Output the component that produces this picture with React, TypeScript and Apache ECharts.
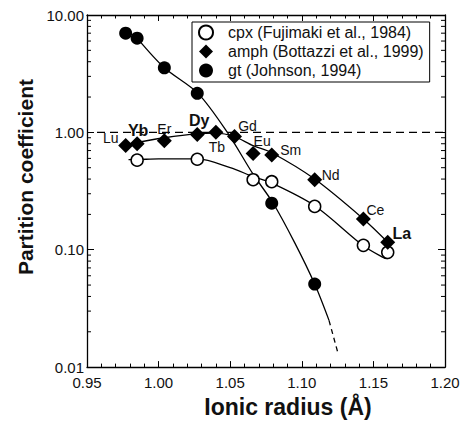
import React, { useEffect, useRef } from "react";
import * as echarts from "echarts";

// ---- data ----
const X_MIN = 0.95;
const X_MAX = 1.2;
const Y_MIN = 0.01;
const Y_MAX = 10;

const CPX_NAME = "cpx (Fujimaki et al., 1984)";
const AMPH_NAME = "amph (Bottazzi et al., 1999)";
const GT_NAME = "gt (Johnson, 1994)";

// cpx (open circles): ionic radius (Å), partition coefficient
const cpxRadius = [0.985, 1.027, 1.066, 1.079, 1.109, 1.143, 1.16];
const cpxValue = [0.58, 0.59, 0.395, 0.38, 0.234, 0.109, 0.095];

// amph (diamonds)
const amphElements = ["Lu", "Yb", "Er", "Dy", "Tb", "Gd", "Eu", "Sm", "Nd", "Ce", "La"];
const amphRadius = [0.977, 0.985, 1.004, 1.027, 1.04, 1.053, 1.066, 1.079, 1.109, 1.143, 1.16];
const amphValue = [0.774, 0.8, 0.85, 0.957, 1.0, 0.92, 0.66, 0.64, 0.395, 0.183, 0.116];

// gt (filled circles)
const gtRadius = [0.977, 0.985, 1.004, 1.027, 1.079, 1.109];
const gtValue = [7.0, 6.35, 3.55, 2.15, 0.249, 0.051];

// fitted curves as drawn
const cpxCurveX = [0.979, 0.9856, 1.0, 1.0275, 1.05, 1.066, 1.079, 1.109, 1.143, 1.156, 1.1595, 1.163];
const cpxCurveY = [0.585, 0.586, 0.595, 0.595, 0.5, 0.42, 0.37, 0.237, 0.108, 0.087, 0.084, 0.091];

const amphCurveX = [0.978, 0.985, 1.004, 1.0275, 1.04, 1.053, 1.066, 1.079, 1.109, 1.143, 1.16];
const amphCurveY = [0.79, 0.82, 0.9, 0.975, 0.985, 0.92, 0.77, 0.67, 0.4, 0.183, 0.116];

const gtCurveX = [0.985, 1.004, 1.0275, 1.048, 1.066, 1.08, 1.095, 1.109, 1.119];
const gtCurveY = [6.35, 3.55, 2.15, 1.0, 0.44, 0.249, 0.115, 0.051, 0.025];

const gtDashX = [1.119, 1.125];
const gtDashY = [0.025, 0.0135];

const refLineX = [0.957, 1.2];
const refLineY = [1.0, 1.0];

// log-axis minor ticks
const yMinorTicks = [
  0.02, 0.03, 0.04, 0.05, 0.06, 0.07, 0.08, 0.09,
  0.2, 0.3, 0.4, 0.5, 0.6, 0.7, 0.8, 0.9,
  2, 3, 4, 5, 6, 7, 8, 9,
];

// ---- styles ----
const amphLabelBold = [false, true, false, true, false, false, false, false, false, false, true];
const amphLabelOffset = [
  [-15, -7], [1, -13], [0, -12], [2, -14], [1, 15], [13, -11],
  [9, -13], [19, -5], [16, -5], [12, -9], [14, -9],
];

const FONT = "'Liberation Sans', Arial, Helvetica, sans-serif";
const MINOR_LEN = 4;

const zip = (xs: number[], ys: number[]) => xs.map((x, i) => [x, ys[i]]);

export default function App() {
  const ref = useRef<HTMLDivElement>(null);

  useEffect(() => {
    if (!ref.current) return;
    const chart = echarts.init(ref.current, undefined, { renderer: "svg" });

    const curveStyle = { color: "#000", width: 1.3 };

    const option: any = {
      animation: false,
      backgroundColor: "#fff",
      textStyle: { fontFamily: FONT },
      grid: { left: 87, right: 20, top: 15, bottom: 49, containLabel: false },
      legend: {
        data: [CPX_NAME, AMPH_NAME, GT_NAME],
        orient: "vertical",
        left: 192,
        top: 22,
        selectedMode: false,
        backgroundColor: "#fff",
        borderColor: "#000",
        borderWidth: 1,
        padding: [1, 6, 2, 6],
        itemGap: 0,
        itemWidth: 14,
        itemHeight: 14,
        textStyle: {
          fontFamily: FONT,
          fontSize: 16,
          color: "#111",
          lineHeight: 19,
          padding: [0, 0, 0, 10],
        },
      },
      xAxis: [
        {
          type: "value",
          min: X_MIN,
          max: X_MAX,
          interval: 0.05,
          position: "bottom",
          name: "Ionic radius (Å)",
          nameLocation: "middle",
          nameGap: 21,
          nameTextStyle: {
            fontFamily: FONT,
            fontSize: 23,
            fontWeight: "bold",
            color: "#111",
            padding: [0, 0, 0, 44],
          },
          axisLine: { lineStyle: { color: "#000", width: 1.3 } },
          axisTick: { inside: true, length: 6, lineStyle: { color: "#000" } },
          minorTick: { show: true, splitNumber: 5, length: 3.5, lineStyle: { color: "#000" } },
          axisLabel: {
            fontFamily: FONT,
            fontSize: 15,
            color: "#111",
            margin: 8,
            formatter: (v: number) => Number(v).toFixed(2),
          },
          splitLine: { show: false },
        },
        {
          type: "value",
          min: X_MIN,
          max: X_MAX,
          interval: 0.05,
          position: "top",
          axisLine: { lineStyle: { color: "#000", width: 1.3 } },
          axisTick: { inside: true, length: 6, lineStyle: { color: "#000" } },
          minorTick: { show: true, splitNumber: 5, length: 3.5, lineStyle: { color: "#000" } },
          axisLabel: { show: false },
          splitLine: { show: false },
        },
      ],
      yAxis: [
        {
          type: "log",
          logBase: 10,
          min: Y_MIN,
          max: Y_MAX,
          position: "left",
          name: "Partition coefficient",
          nameLocation: "middle",
          nameGap: 38,
          nameTextStyle: {
            fontFamily: FONT,
            fontSize: 21,
            fontWeight: "bold",
            color: "#111",
            padding: [0, 0, 0, 28],
          },
          axisLine: { lineStyle: { color: "#000", width: 1.3 } },
          axisTick: { inside: true, length: 7, lineStyle: { color: "#000" } },
          axisLabel: {
            fontFamily: FONT,
            fontSize: 15,
            color: "#111",
            margin: 3,
            formatter: (v: number) => Number(v).toFixed(2),
          },
          splitLine: { show: false },
        },
        {
          type: "log",
          logBase: 10,
          min: Y_MIN,
          max: Y_MAX,
          position: "right",
          axisLine: { lineStyle: { color: "#000", width: 1.3 } },
          axisTick: { inside: true, length: 7, lineStyle: { color: "#000" } },
          axisLabel: { show: false },
          splitLine: { show: false },
        },
      ],
      series: [
        {
          name: "ref",
          type: "line",
          data: zip(refLineX, refLineY),
          symbol: "none",
          lineStyle: { color: "#000", width: 1.2, type: [8, 5] },
          z: 1,
        },
        {
          name: "cpxCurve",
          type: "line",
          data: zip(cpxCurveX, cpxCurveY),
          smooth: 0.3,
          symbol: "none",
          lineStyle: curveStyle,
          z: 2,
        },
        {
          name: "amphCurve",
          type: "line",
          data: zip(amphCurveX, amphCurveY),
          smooth: 0.3,
          symbol: "none",
          lineStyle: curveStyle,
          z: 2,
        },
        {
          name: "gtCurve",
          type: "line",
          data: zip(gtCurveX, gtCurveY),
          smooth: 0.3,
          symbol: "none",
          lineStyle: curveStyle,
          z: 2,
        },
        {
          name: "gtDash",
          type: "line",
          data: zip(gtDashX, gtDashY),
          symbol: "none",
          lineStyle: { color: "#000", width: 1.3, type: [5, 4] },
          z: 2,
        },
        {
          name: CPX_NAME,
          type: "scatter",
          data: zip(cpxRadius, cpxValue),
          symbol: "circle",
          symbolSize: 12,
          itemStyle: { color: "#fff", borderColor: "#000", borderWidth: 1.5, opacity: 1 },
          z: 5,
        },
        {
          name: AMPH_NAME,
          type: "scatter",
          data: amphRadius.map((x, i) => ({
            value: [x, amphValue[i]],
            label: {
              show: true,
              formatter: amphElements[i],
              position: "inside",
              offset: amphLabelOffset[i],
              align: "center",
              verticalAlign: "middle",
              color: "#111",
              textBorderWidth: 0,
              fontFamily: FONT,
              fontSize: amphLabelBold[i] ? 16 : 14,
              fontWeight: amphLabelBold[i] ? "bold" : "normal",
            },
          })),
          symbol: "diamond",
          symbolSize: 15,
          itemStyle: { color: "#000", opacity: 1 },
          z: 6,
        },
        {
          name: GT_NAME,
          type: "scatter",
          data: zip(gtRadius, gtValue),
          symbol: "circle",
          symbolSize: 13,
          itemStyle: { color: "#000", opacity: 1 },
          z: 5,
        },
      ],
    };

    chart.setOption(option);

    // Log-axis minor ticks, positioned through the chart's own scales.
    const finder = { xAxisIndex: 0, yAxisIndex: 0 };
    const ticks: any[] = [];
    yMinorTicks.forEach((v) => {
      const l = chart.convertToPixel(finder as any, [X_MIN, v]) as number[];
      const r = chart.convertToPixel(finder as any, [X_MAX, v]) as number[];
      if (!l || !r) return;
      ticks.push({
        type: "line",
        silent: true,
        z: 100,
        shape: { x1: l[0], y1: l[1], x2: l[0] + MINOR_LEN, y2: l[1] },
        style: { stroke: "#000", lineWidth: 1 },
      });
      ticks.push({
        type: "line",
        silent: true,
        z: 100,
        shape: { x1: r[0] - MINOR_LEN, y1: r[1], x2: r[0], y2: r[1] },
        style: { stroke: "#000", lineWidth: 1 },
      });
    });
    chart.setOption({ graphic: { elements: ticks } });

    return () => chart.dispose();
  }, []);

  return (
    <div
      ref={ref}
      style={{ position: "absolute", left: 0, top: 0, width: 465, height: 423, background: "#fff" }}
    />
  );
}
